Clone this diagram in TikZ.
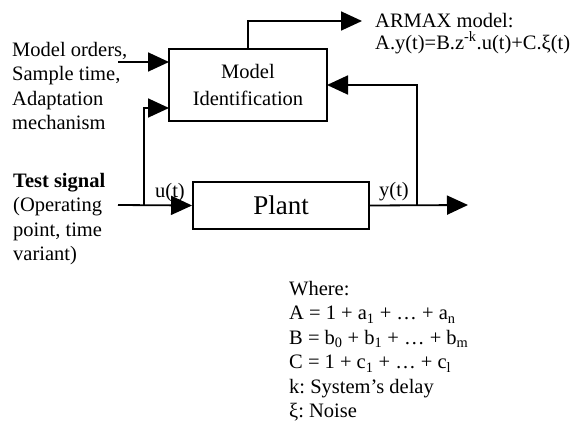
\documentclass[tikz,border=0pt]{standalone}
\usepackage{fontspec}
\setmainfont{Liberation Serif}
\usetikzlibrary{arrows.meta}
\tikzset{
  blk/.style={draw, line width=1.9pt, inner sep=0pt, font=\fontsize{20.5}{24}\selectfont, align=center},
  sig/.style={line width=1.8pt, -{Triangle[length=21pt,width=19pt]}},
  txt/.style={inner sep=0pt, font=\frenchspacing\fontsize{20.5}{24.5}\selectfont, align=left},
}
\begin{document}
\begin{tikzpicture}[x=1pt,y=-1pt]
\useasboundingbox (0,0) rectangle (576,423);

% blocks
\node[blk, minimum width=158pt, minimum height=72pt] (mi) at (248,85) {Model\\[3pt]Identification};
\node[blk, minimum width=176pt, minimum height=47pt, font=\fontsize{27}{30}\selectfont] (plant) at (281,205.5) {Plant};

% side texts
\node[txt, anchor=north west] (params) at (12,42) {Model orders,\\Sample time,\\Adaptation\\mechanism};
\node[txt, anchor=north west] (test) at (13,173) {\textbf{Test signal}\\(Operating\\point, time\\variant)};
\node[txt, anchor=north west, font=\frenchspacing\fontsize{20.5}{22}\selectfont] (armax) at (375,13) {ARMAX model:\\A.y(t)=B.z\textsuperscript{-k}.u(t)+C.ξ(t)};
\node[txt, anchor=north west] (where) at (289,281) {Where:\\
A = 1 + a\textsubscript{1} + … + a\textsubscript{n}\\
B = b\textsubscript{0} + b\textsubscript{1} + … + b\textsubscript{m}\\
C = 1 + c\textsubscript{1} + … + c\textsubscript{l}\\
k: System’s delay\\
ξ: Noise};

% signal labels
\node[txt] (ulab) at (170,193) {u(t)};
\node[txt] (ylab) at (394,192) {y(t)};

% connection points
\coordinate (parin) at (118,62);
\coordinate (parend) at (169,62);
\coordinate (uin) at (118,205);
\coordinate (uj) at (144,205);
\coordinate (ident) at (169,108);
\coordinate (yj) at (417,205);
\coordinate (yout) at (468,205);
\coordinate (fbend) at (327,85);
\coordinate (topout) at (362,21);

% connectors
\draw[sig] (parin) -- (parend);
\draw[sig] (uin) -- (plant.west);
\draw[sig] (uj) |- (ident);
\draw[sig] (plant.east) -- (yout);
\draw[sig] (yj) |- (fbend);
\draw[sig] (mi.north) |- (topout);
\end{tikzpicture}
\end{document}
